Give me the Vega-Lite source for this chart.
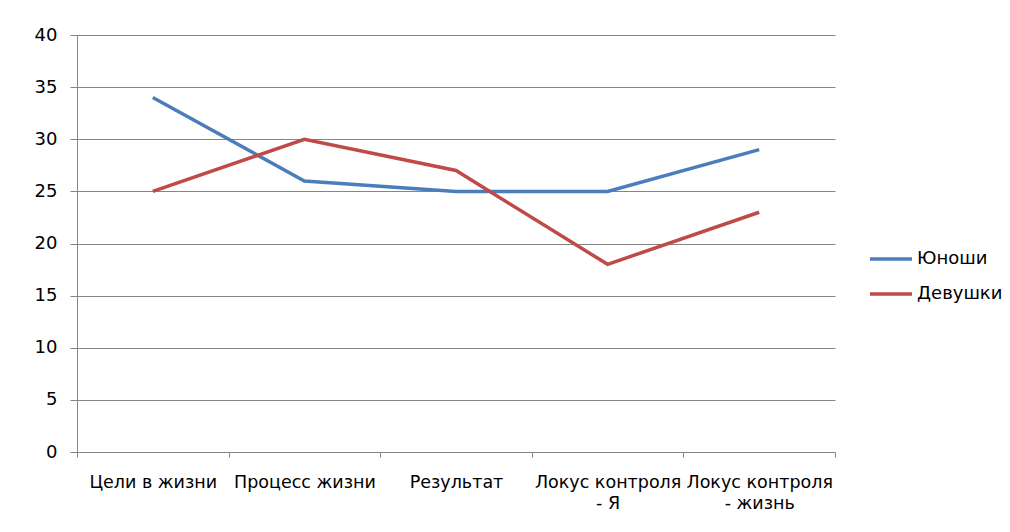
{
  "$schema": "https://vega.github.io/schema/vega-lite/v6.json",
  "width": 758,
  "height": 417,
  "autosize": "none",
  "padding": {"left": 77, "top": 35, "right": 175, "bottom": 80},
  "background": "white",
  "config": {"view": {"stroke": null}, "font": "DejaVu Sans"},
  "data": {
    "values": [
      {"cat": "Цели в жизни", "s": "Юноши", "v": 34},
      {"cat": "Процесс жизни", "s": "Юноши", "v": 26},
      {"cat": "Результат", "s": "Юноши", "v": 25},
      {"cat": "Локус контроля - Я", "s": "Юноши", "v": 25},
      {"cat": "Локус контроля - жизнь", "s": "Юноши", "v": 29},
      {"cat": "Цели в жизни", "s": "Девушки", "v": 25},
      {"cat": "Процесс жизни", "s": "Девушки", "v": 30},
      {"cat": "Результат", "s": "Девушки", "v": 27},
      {"cat": "Локус контроля - Я", "s": "Девушки", "v": 18},
      {"cat": "Локус контроля - жизнь", "s": "Девушки", "v": 23}
    ]
  },
  "mark": {"type": "line", "strokeWidth": 3.5},
  "encoding": {
    "x": {
      "field": "cat",
      "type": "nominal",
      "sort": null,
      "scale": {"type": "band", "paddingInner": 0, "paddingOuter": 0},
      "axis": {
        "title": null,
        "labelAngle": 0,
        "tickBand": "extent",
        "grid": false,
        "domainColor": "#868686",
        "tickColor": "#868686",
        "tickSize": 5,
        "labelFontSize": 17.5,
        "labelColor": "#000000",
        "labelPadding": 16,
        "labelLineHeight": 21,
        "labelLimit": 200,
        "labelExpr": "split(replace(datum.label, ' - ', '\\n- '), '\\n')"
      }
    },
    "y": {
      "field": "v",
      "type": "quantitative",
      "scale": {"domain": [0, 40]},
      "axis": {
        "title": null,
        "values": [0, 5, 10, 15, 20, 25, 30, 35, 40],
        "gridColor": "#868686",
        "domainColor": "#868686",
        "tickColor": "#868686",
        "tickSize": 7,
        "labelPadding": 13,
        "labelFontSize": 18,
        "labelColor": "#000000"
      }
    },
    "color": {
      "field": "s",
      "type": "nominal",
      "scale": {"domain": ["Юноши", "Девушки"], "range": ["#4A7EBB", "#BE4B48"]},
      "legend": {
        "title": null,
        "orient": "none",
        "legendX": 791,
        "legendY": 201,
        "symbolType": "stroke",
        "symbolSize": 1764,
        "symbolStrokeWidth": 3.5,
        "labelFontSize": 18,
        "labelColor": "#000000",
        "rowPadding": 3,
        "labelOffset": 3
      }
    }
  }
}
